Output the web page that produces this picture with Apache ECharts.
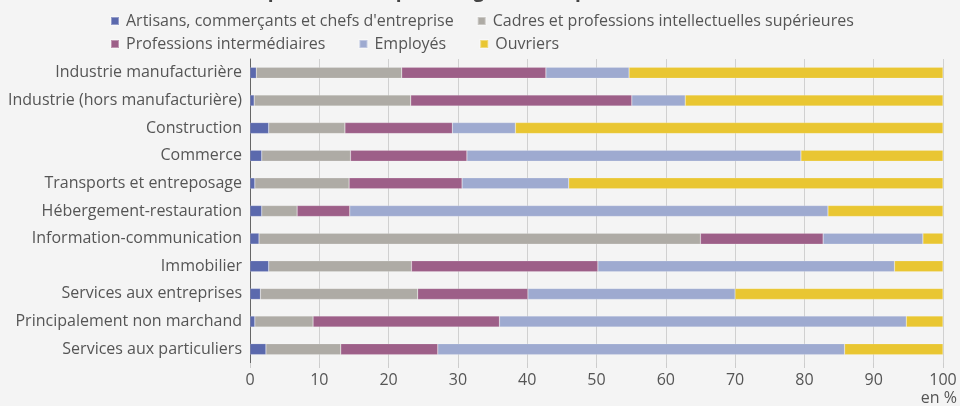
<!DOCTYPE html>
<html><head><meta charset="utf-8">
<script src="https://cdn.jsdelivr.net/npm/echarts@6/dist/echarts.min.js"></script>
<style>html,body{margin:0;padding:0;background:#f4f4f4}#c{width:960px;height:406px}</style>
</head><body><div id="c"></div>
<script>
var categories = ["Industrie manufacturière","Industrie (hors manufacturière)","Construction","Commerce","Transports et entreposage","Hébergement-restauration","Information-communication","Immobilier","Services aux entreprises","Principalement non marchand","Services aux particuliers"];
var seriesNames = ["Artisans, commerçants et chefs d'entreprise","Cadres et professions intellectuelles supérieures","Professions intermédiaires","Employés","Ouvriers"];
var artisans   = [0.9, 0.6, 2.7, 1.7, 0.7, 1.7, 1.3, 2.7, 1.5, 0.7, 2.3];
var cadres     = [21.0, 22.6, 11.0, 12.8, 13.6, 5.1, 63.7, 20.6, 22.7, 8.4, 10.8];
var profInter  = [20.8, 31.9, 15.5, 16.8, 16.3, 7.6, 17.7, 26.9, 15.9, 26.9, 14.0];
var employes   = [12.0, 7.7, 9.1, 48.2, 15.4, 69.0, 14.4, 42.8, 29.9, 58.7, 58.7];
var ouvriers   = [45.3, 37.2, 61.7, 20.5, 54.0, 16.6, 2.9, 7.0, 30.0, 5.3, 14.2];
var xTicks = [0,10,20,30,40,50,60,70,80,90,100];
var colors = ["#5b69ad","#aeaba5","#9d5f88","#9eaad0","#e9c632"];
var values = [artisans, cadres, profInter, employes, ouvriers];
var font = "'Open Sans', sans-serif";
var chart = echarts.init(document.getElementById('c'));
chart.setOption({
  backgroundColor: '#f4f4f4',
  animation: false,
  title: {text: 'Emplois salariés par catégorie socioprofessionnelle', left: 'center', top: -18, padding: 0,
    textStyle: {fontFamily: font, fontSize: 19, fontWeight: 'bold', color: '#444'}},
  legend: [
    {data: seriesNames.slice(0,2), left: 110, top: 13, padding: 0, itemWidth: 8, itemHeight: 8, itemGap: 23, icon: 'rect',
     textStyle: {fontFamily: font, fontSize: 16, color: '#555', padding: [0,0,0,2]}},
    {data: seriesNames.slice(2), left: 110, top: 36, padding: 0, itemWidth: 8, itemHeight: 8, itemGap: 33, icon: 'rect',
     textStyle: {fontFamily: font, fontSize: 16, color: '#555', padding: [0,0,0,2]}}
  ],
  grid: {left: 250, right: 17, top: 59, bottom: 43, containLabel: false},
  xAxis: {type: 'value', min: 0, max: 100, interval: 10,
    axisLine: {show: false},
    axisTick: {show: true, length: 5, lineStyle: {color: '#ccc'}},
    axisLabel: {fontFamily: font, fontSize: 16, color: '#555', margin: 9,
      formatter: function(v){ return xTicks.indexOf(v) >= 0 ? String(v) : ''; }},
    splitLine: {show: true, lineStyle: {color: '#d0d0d0', width: 1}}},
  yAxis: {type: 'category', data: categories, inverse: true,
    axisLine: {show: true, lineStyle: {color: '#666', width: 1}},
    axisTick: {show: false},
    axisLabel: {fontFamily: font, fontSize: 16, color: '#555', margin: 8}},
  graphic: [{type: 'text', right: 3, top: 390, style: {text: 'en %', font: '16px ' + font, fill: '#555'}}],
  series: seriesNames.map(function(n, i){
    return {name: n, type: 'bar', stack: 'total', data: values[i], barWidth: 11,
      itemStyle: {color: colors[i], borderColor: 'rgba(255,255,255,0.35)', borderWidth: 0.5}};
  })
});
</script></body></html>
